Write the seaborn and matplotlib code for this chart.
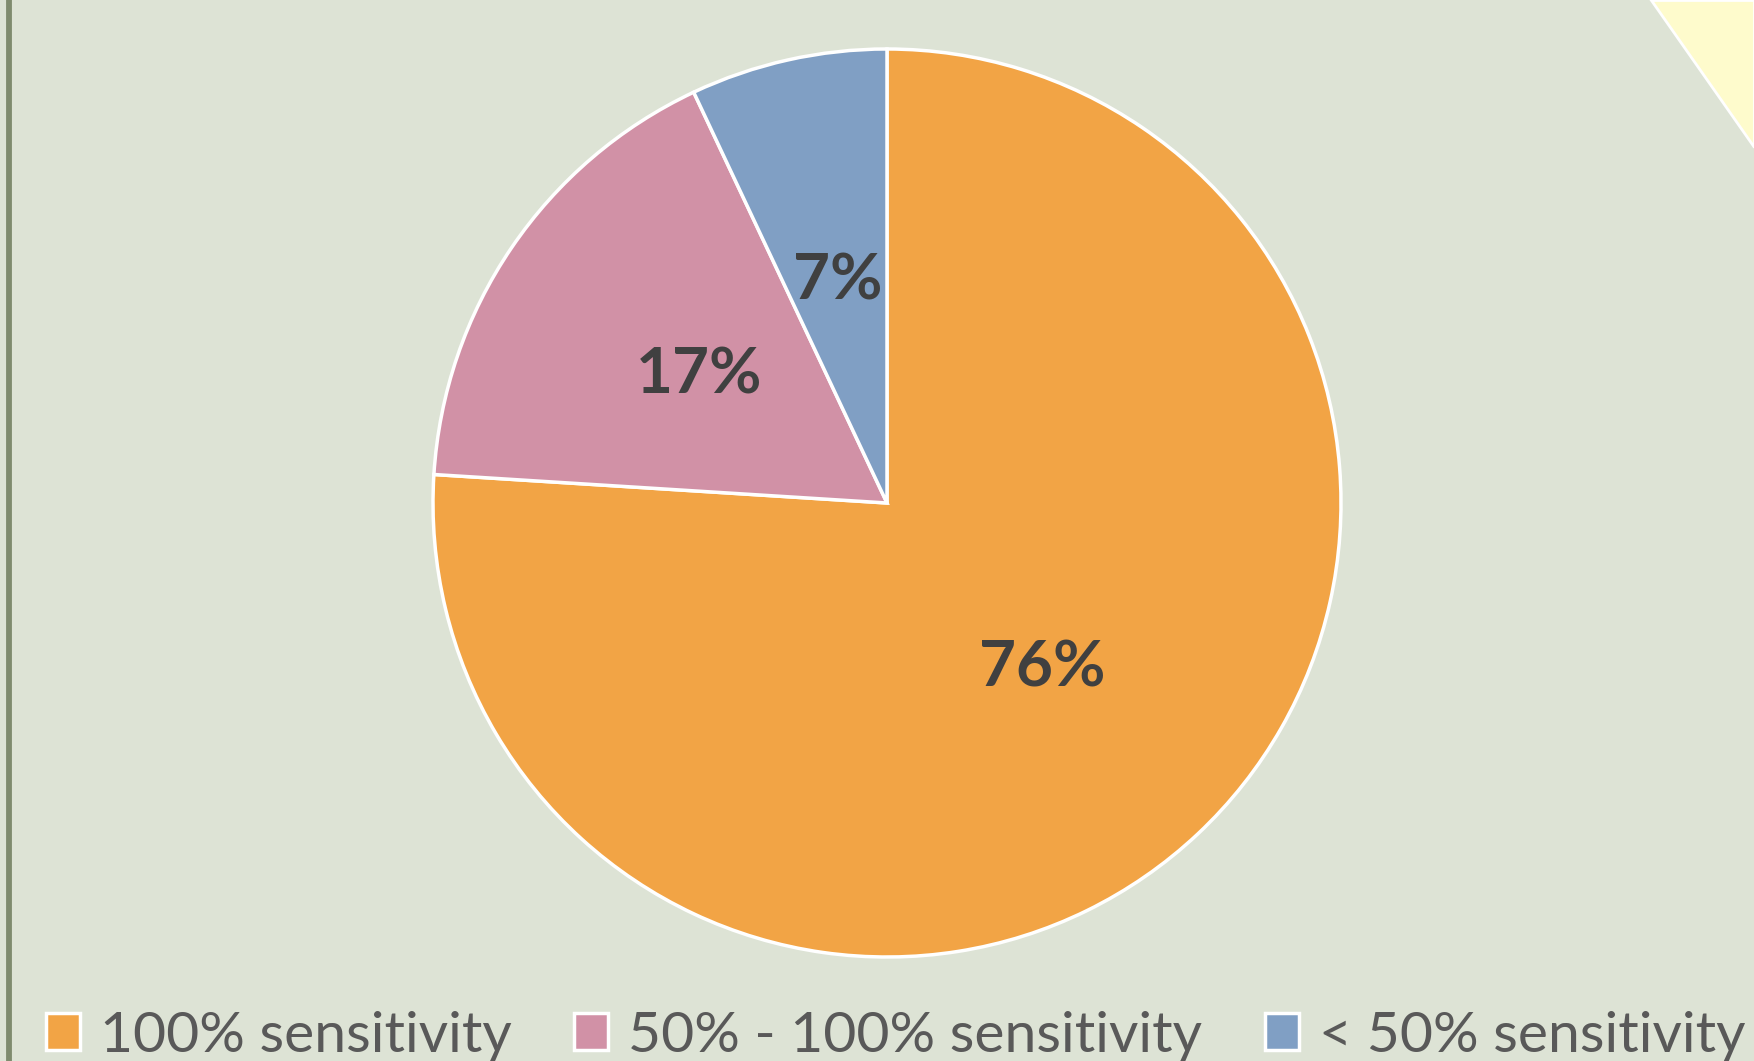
import matplotlib
matplotlib.use("Agg")
import matplotlib.pyplot as plt
from matplotlib.patches import Polygon
import seaborn as sns

categories = ["100% sensitivity", "50% - 100% sensitivity", "< 50% sensitivity"]
shares = [76, 17, 7]
colors = ["#F2A445", "#D191A6", "#809FC4"]

sns.set_theme(style="white")
plt.rcParams["font.family"] = ["Lato", "DejaVu Sans"]

bg = "#DDE3D5"
fig = plt.figure(figsize=(17.54, 10.61), dpi=100)
fig.patch.set_facecolor(bg)

# decorative left rule and top-right corner triangle
fig.add_artist(plt.Line2D([0.0051, 0.0051], [0, 1], transform=fig.transFigure,
                          color="#7F8B6E", linewidth=4.2))
fig.add_artist(Polygon([[1651 / 1754, 1.0], [1.0, 1.0], [1.0, 1 - 147 / 1061]],
                       closed=True, transform=fig.transFigure,
                       facecolor="#FEFBCC", edgecolor="white", linewidth=2))

cx, cy, r = 887, 503, 454
ax = fig.add_axes([(cx - r) / 1754, (1061 - cy - r) / 1061, 2 * r / 1754, 2 * r / 1061])
ax.set_facecolor("none")

palette = sns.color_palette(colors)
wedges, texts, autotexts = ax.pie(
    shares, colors=palette, startangle=90, counterclock=False,
    autopct=lambda p: f"{p:.0f}%", pctdistance=0.5,
    wedgeprops=dict(edgecolor="white", linewidth=2.5),
    textprops=dict(color="#404040", fontsize=46, fontweight="bold"),
)
for w in wedges:
    w.set_clip_on(False)
ax.set_xlim(-1, 1)
ax.set_ylim(-1, 1)
ax.set_aspect("equal")
ax.axis("off")

leg = fig.legend(wedges, categories, loc="lower left", bbox_to_anchor=(0.013, -0.022),
                 ncol=3, frameon=False, fontsize=41,
                 handlelength=0.6, handleheight=0.6, handletextpad=0.35,
                 columnspacing=1.1, labelcolor="#595959", borderaxespad=0)

fig.savefig("out.png", dpi=100, facecolor=bg)
